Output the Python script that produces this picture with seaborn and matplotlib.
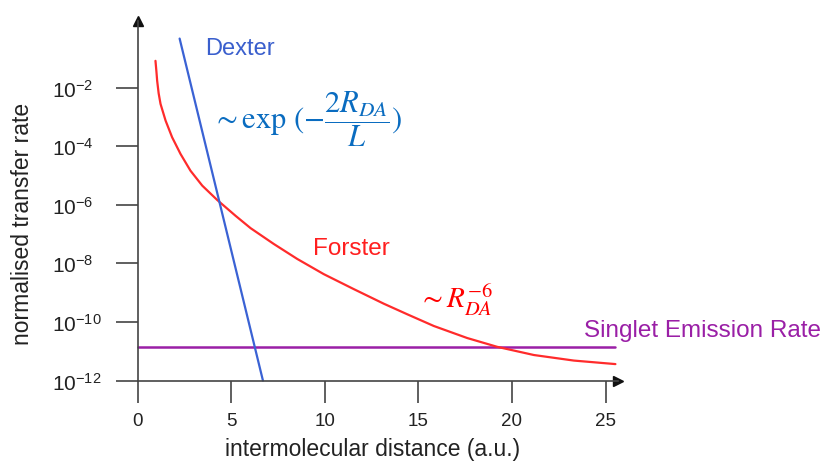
import numpy as np
import pandas as pd
import matplotlib
matplotlib.use("Agg")
import matplotlib.pyplot as plt
import seaborn as sns

# ---- data (y given as log10 of the rate) ----
dexter_x = [2.25, 6.70]
dexter_logy = [-0.33, -12.0]

forster_x = [0.96, 1.01, 1.05, 1.13, 1.23, 1.50, 1.85, 2.30, 2.83, 3.46, 4.26, 5.24,
             6.04, 7.28, 8.53, 9.95, 11.55, 13.16, 14.41, 15.83, 17.61, 19.21,
             21.17, 23.31, 25.53]
forster_logy = [-1.09, -1.45, -1.77, -2.20, -2.56, -3.13, -3.70, -4.27, -4.84,
                -5.35, -5.84, -6.38, -6.80, -7.34, -7.85, -8.37, -8.88, -9.38,
                -9.74, -10.14, -10.55, -10.85, -11.13, -11.32, -11.44]

singlet_x = [0.0, 25.53]
singlet_logy = [-10.87, -10.87]

xticks = [0, 5, 10, 15, 20, 25]
ytick_exps = [-12, -10, -8, -6, -4, -2]

sns.set_theme(style="white")
plt.rcParams['font.family'] = ['Liberation Sans', 'DejaVu Sans']
plt.rcParams['mathtext.fontset'] = 'custom'
plt.rcParams['mathtext.rm'] = 'Liberation Sans'
plt.rcParams['mathtext.it'] = 'Liberation Sans:italic'

W, H = 825, 464
fig = plt.figure(figsize=(W / 100, H / 100), dpi=100)
ax = fig.add_axes([137.5 / W, 1 - 381.5 / H, (618 - 137.5) / W, (381.5 - 22) / H])

df_d = pd.DataFrame({"x": dexter_x, "y": 10.0 ** np.array(dexter_logy)})
df_f = pd.DataFrame({"x": forster_x, "y": 10.0 ** np.array(forster_logy)})
df_s = pd.DataFrame({"x": singlet_x, "y": 10.0 ** np.array(singlet_logy)})

sns.lineplot(data=df_s, x="x", y="y", ax=ax, color="#9a1fa6", lw=1.8,
             estimator=None, sort=False, clip_on=False)
sns.lineplot(data=df_f, x="x", y="y", ax=ax, color="#ff2b2b", lw=1.6,
             estimator=None, sort=False, clip_on=False)
sns.lineplot(data=df_d, x="x", y="y", ax=ax, color="#3a62d4", lw=1.6,
             estimator=None, sort=False, clip_on=False)

ax.set_yscale("log")
ax.set_xlim(0, (618 - 137.5) / 18.72)
ax.set_ylim(1e-12, 10 ** ((381.5 - 22) / 29.3 - 12))

spine_col = "#444444"
for s in ["top", "right"]:
    ax.spines[s].set_visible(False)
for s in ["left", "bottom"]:
    ax.spines[s].set_color(spine_col)
    ax.spines[s].set_linewidth(1.2)

ax.set_xticks(xticks)
ax.set_xticklabels([str(v) for v in xticks])
ax.set_yticks([10.0 ** e for e in ytick_exps])
ax.set_yticklabels([r'$\mathregular{10^{%d}}$' % e for e in ytick_exps])
ax.yaxis.set_minor_locator(matplotlib.ticker.NullLocator())
ax.tick_params(axis="x", direction="out", length=15.5, width=1.2, color=spine_col,
               labelsize=13.5, pad=7, labelcolor="#222222", bottom=True)
ax.tick_params(axis="y", direction="out", length=15.5, width=1.2, color=spine_col,
               labelsize=15, pad=46, labelcolor="#222222", left=True)
for lab in ax.get_yticklabels():
    lab.set_horizontalalignment("left")

ax.set_xlabel("")
ax.set_ylabel("")

# arrow heads
ax.plot(1, 0, ">", color="#111111", ms=7, transform=ax.transAxes, clip_on=False)
ax.plot(0, 1, "^", color="#111111", ms=7, transform=ax.transAxes, clip_on=False)

def fx(px):
    return px / W

def fy(py):
    return 1 - py / H

fig.text(fx(373), fy(450), "intermolecular distance (a.u.)", fontsize=16.5,
         ha="center", va="center", color="#222222")
fig.text(fx(23), fy(224), "normalised transfer rate", fontsize=16.5,
         ha="center", va="center", rotation=90, color="#222222")

fig.text(fx(205), fy(55), "Dexter", fontsize=17, color="#3a5fcd", ha="left", va="baseline")
fig.text(fx(313), fy(255), "Forster", fontsize=17.5, color="#ff1f1f", ha="left", va="baseline")
fig.text(fx(584), fy(337), "Singlet Emission Rate", fontsize=17.5, color="#9a1fa6",
         ha="left", va="baseline")

fig.text(fx(307), fy(119), r'$\sim\mathrm{exp}\ (-\dfrac{2R_{DA}}{L})$', fontsize=22,
         color="#0a6cc0", ha="center", va="center", math_fontfamily="stix")
fig.text(fx(455), fy(300), r'$\sim R_{DA}^{-6}$', fontsize=21,
         color="#ff0000", ha="center", va="center", math_fontfamily="stix")

fig.savefig("out.png", dpi=100)
